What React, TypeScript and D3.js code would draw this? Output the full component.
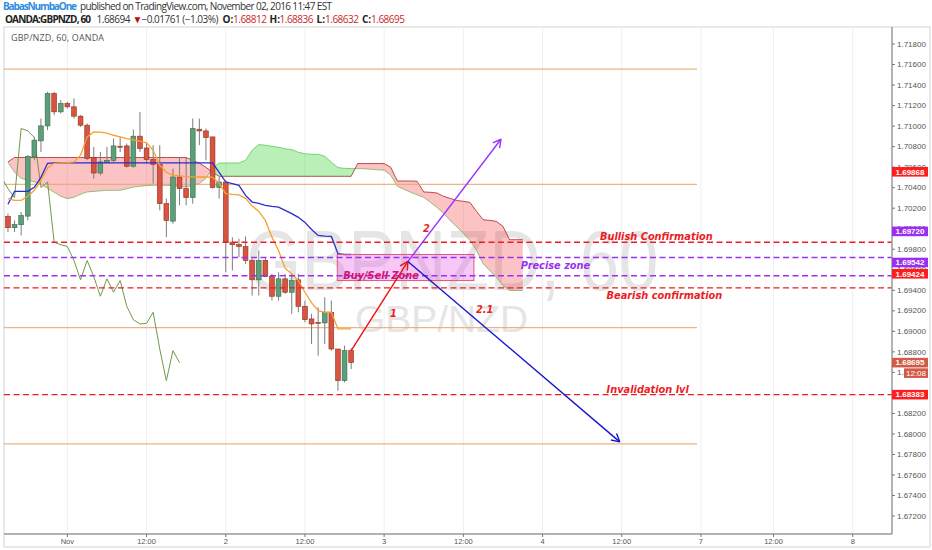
import { useEffect, useRef } from "react"
import * as d3 from "d3"

// hourly bars, bar 0 = Nov 1 00:00, first visible candle is bar -9
const firstBar = -9

const opens = [
  1.7012, 1.7001, 1.70039, 1.70123, 1.70699, 1.70856, 1.71002, 1.71319, 1.71139, 1.71221,
  1.71188, 1.71097, 1.71009, 1.70694, 1.70543, 1.70645, 1.70667, 1.70804, 1.70807, 1.70609,
  1.70902, 1.70787, 1.70677, 1.70628, 1.70244, 1.70074, 1.70504, 1.70391, 1.70303, 1.7097,
  1.70953, 1.70895, 1.70401, 1.70455, 1.69869, 1.69847, 1.69827, 1.69691, 1.69502, 1.69691,
  1.69534, 1.69342, 1.69512, 1.69381, 1.69502, 1.69244, 1.69121, 1.69088, 1.69082, 1.69186,
  1.68828, 1.68519, 1.68812,
]
const highs = [
  1.70147, 1.70081, 1.70162, 1.70716, 1.70895, 1.71074, 1.71334, 1.71334, 1.71253, 1.71237,
  1.7127, 1.71107, 1.71026, 1.70797, 1.70748, 1.70797, 1.70879, 1.70895, 1.7083, 1.70967,
  1.71139, 1.70836, 1.70814, 1.70814, 1.70293, 1.70586, 1.70699, 1.70699, 1.71074, 1.71074,
  1.70977, 1.70895, 1.70504, 1.70472, 1.69918, 1.69903, 1.69925, 1.69707, 1.69788, 1.69723,
  1.69561, 1.69576, 1.69561, 1.69561, 1.69561, 1.693, 1.6917, 1.69235, 1.69332, 1.693,
  1.68828, 1.68861, 1.68836,
]
const lows = [
  1.69967, 1.69967, 1.69935, 1.70081, 1.70667, 1.70748, 1.7096, 1.71107, 1.71123, 1.71172,
  1.71074, 1.70992, 1.70667, 1.70488, 1.70521, 1.70641, 1.70651, 1.70748, 1.70596, 1.70596,
  1.70748, 1.70635, 1.7044, 1.70179, 1.69918, 1.70049, 1.70228, 1.70228, 1.70244, 1.70814,
  1.70667, 1.70391, 1.70293, 1.69576, 1.69593, 1.69723, 1.69658, 1.69349, 1.69349, 1.69528,
  1.693, 1.693, 1.69365, 1.6917, 1.69186, 1.69088, 1.68877, 1.68763, 1.68877, 1.68812,
  1.68421, 1.68502, 1.68632,
]
const closes = [
  1.7001, 1.70042, 1.7013, 1.70706, 1.70863, 1.71002, 1.71319, 1.71139, 1.71221, 1.71188,
  1.71097, 1.71009, 1.70684, 1.70543, 1.70651, 1.70667, 1.70807, 1.70799, 1.70609, 1.70902,
  1.70781, 1.70674, 1.70628, 1.70244, 1.70081, 1.70504, 1.70391, 1.70303, 1.70977, 1.70953,
  1.70889, 1.70401, 1.70455, 1.69869, 1.69844, 1.69827, 1.69691, 1.69502, 1.69691, 1.69534,
  1.69342, 1.69512, 1.69381, 1.69495, 1.69244, 1.69114, 1.69072, 1.69078, 1.69186, 1.68828,
  1.68519, 1.68812, 1.68695,
]

// Ichimoku, values from bar -9
const tenkan = [
  1.70293, 1.70277, 1.70277, 1.70316, 1.70374, 1.70472, 1.70589, 1.70638, 1.70641, 1.70643,
  1.70651, 1.70716, 1.70895, 1.70944, 1.70941, 1.70931, 1.70911, 1.70895, 1.70879, 1.70867,
  1.70853, 1.70838, 1.70765, 1.70618, 1.7055, 1.70521, 1.70516, 1.70511, 1.70506, 1.70504,
  1.70504, 1.70501, 1.70443, 1.70342, 1.70335, 1.7033, 1.70296, 1.70223, 1.70169, 1.70081,
  1.69918, 1.69788, 1.69613, 1.69561, 1.69495, 1.69381, 1.6928, 1.69202, 1.69186, 1.69186,
  1.69024, 1.69024, 1.69024,
]
const kijun = [
  1.70238, 1.70364, 1.70364, 1.70364, 1.70404, 1.70501, 1.70638, 1.70641, 1.70641, 1.70641,
  1.70641, 1.70641, 1.70641, 1.70641, 1.70641, 1.70641, 1.70641, 1.70641, 1.70641, 1.70641,
  1.70641, 1.70641, 1.70641, 1.70641, 1.70641, 1.70641, 1.70641, 1.70641, 1.70641, 1.70641,
  1.70641, 1.70641, 1.7055, 1.70455, 1.7044, 1.70423, 1.70325, 1.7026, 1.70247, 1.70228,
  1.70218, 1.70211, 1.70179, 1.70147, 1.70111, 1.70062, 1.69993, 1.69935, 1.69928, 1.69925,
  1.69756, 1.69749, 1.69749,
]
// lead lines, bar -9 to bar 69
const senkouA = [
  1.70648, 1.7055, 1.70491, 1.70472, 1.70457, 1.70433, 1.70394, 1.70355, 1.70316, 1.70293,
  1.70306, 1.70335, 1.70358, 1.70364, 1.70369, 1.70374, 1.70374, 1.70374, 1.70389, 1.70406,
  1.70413, 1.7042, 1.70423, 1.70423, 1.70423, 1.70418, 1.70413, 1.70406, 1.70423, 1.7044,
  1.70491, 1.70589, 1.70641, 1.70641, 1.70641, 1.70641, 1.70667, 1.70765, 1.70821, 1.70814,
  1.70804, 1.70794, 1.70779, 1.70772, 1.70745, 1.70731, 1.70726, 1.70726, 1.70706, 1.70648,
  1.70596, 1.70589, 1.70586, 1.70586, 1.70584, 1.70579, 1.70574, 1.7057, 1.70521, 1.70413,
  1.70384, 1.70355, 1.7033, 1.70306, 1.70257, 1.70208, 1.7015, 1.70081, 1.70018, 1.69954,
  1.69886, 1.69788, 1.69658, 1.69593, 1.69528, 1.69446, 1.69398, 1.69398, 1.69398,
]
const senkouB = [
  1.70651, 1.70694, 1.70694, 1.70694, 1.70694, 1.70694, 1.70694, 1.70694, 1.70694, 1.70694,
  1.70694, 1.70694, 1.70694, 1.70694, 1.70694, 1.70694, 1.70694, 1.70694, 1.70694, 1.70694,
  1.70694, 1.70694, 1.70694, 1.70694, 1.70694, 1.70694, 1.70694, 1.70694, 1.70667, 1.70638,
  1.70599, 1.7055, 1.70511, 1.70511, 1.70511, 1.70511, 1.70511, 1.70511, 1.70511, 1.70511,
  1.70511, 1.70511, 1.70511, 1.70511, 1.70511, 1.70511, 1.70511, 1.70511, 1.70511, 1.70511,
  1.70511, 1.70511, 1.70511, 1.70635, 1.70635, 1.70635, 1.70635, 1.70635, 1.70599, 1.70465,
  1.70465, 1.70465, 1.70462, 1.70358, 1.70355, 1.70348, 1.70316, 1.70296, 1.70275, 1.70267,
  1.70257, 1.70169, 1.70088, 1.70081, 1.70072, 1.70023, 1.69893, 1.69893, 1.69893,
]
const chikouShift = 26

const priceTicks = [
  1.672, 1.674, 1.676, 1.678, 1.68, 1.682, 1.684, 1.686, 1.688, 1.69, 1.692, 1.694,
  1.696, 1.698, 1.7, 1.702, 1.704, 1.706, 1.708, 1.71, 1.712, 1.714, 1.716, 1.718,
]
const timeTickBars = [0, 12, 24, 36, 48, 60, 72, 84, 96, 107, 119]
const timeTickLabels = ["Nov", "12:00", "2", "12:00", "3", "12:00", "4", "12:00", "7", "12:00", "8"]

// drawings
const tanLevels = [1.71556, 1.70433, 1.69036, 1.67904]
const tanEndBar = 95.4
const redLevels = [1.69868, 1.69424, 1.68383]
const purpleLevels = [1.6972, 1.69542]
const zone = { bar0: 40.9, bar1: 61.6, top: 1.69749, bottom: 1.69495 }
const arrowRed = { from: [43, 1.68812], to: [51.6, 1.69681] }
const arrowPurple = { from: [51.6, 1.69681], to: [65.7, 1.70872] }
const arrowBlue = { from: [51.6, 1.69681], to: [83.7, 1.67923] }
const redNotes = [
  { text: "Bullish Confirmation", bar: 80.7, price: 1.69891 },
  { text: "Bearish confirmation", bar: 81.7, price: 1.69315 },
  { text: "Invalidation lvl", bar: 81.7, price: 1.68397 },
  { text: "1", bar: 48.9, price: 1.69139 },
  { text: "2", bar: 53.9, price: 1.69969 },
  { text: "2.1", bar: 61.9, price: 1.69178 },
]
const purpleNotes = [{ text: "Precise zone", bar: 68.7, price: 1.69608 }]
const zoneNotes = [{ text: "Buy/Sell Zone", bar: 41.8, price: 1.6951 }]

// price-scale badges: text and the price where the badge sits
const badgeTexts = ["1.69868", "1.69720", "1.69542", "1.69424", "1.68695", "1.68383"]
const badgeAt = [1.70555, 1.69974, 1.69671, 1.69561, 1.68695, 1.68383]
const badgeKinds = ["red", "purple", "purple", "red", "last", "red"]

const pane = { left: 4, right: 892, top: 27, bottom: 534 }
const RED = "#ec1c24"
const PURPLE = "#9b30f0"

export default function App() {
  const svgRef = useRef<SVGSVGElement>(null)

  useEffect(() => {
    if (!svgRef.current) return
    const svg = d3.select(svgRef.current)
    svg.selectAll("*").remove()

    const x = d3.scaleLinear().domain([-9.6, 124.95]).range([pane.left, pane.right])
    const y = d3.scaleLinear().domain([1.67025, 1.71966]).range([pane.bottom, pane.top])

    svg.append("rect").attr("width", 932).attr("height", 550).attr("fill", "#fff")

    // header
    const h1 = svg.append("text").attr("y", 10).style("font-family", "Open Sans, sans-serif").style("font-size", "10px")
    h1.append("tspan").attr("x", 3).attr("fill", "#2d8ee0").attr("font-weight", "bold").attr("textLength", 74).text("BabasNumbaOne")
    h1.append("tspan").attr("x", 80).attr("fill", "#333").attr("textLength", 252)
      .text("published on TradingView.com, November 02, 2016 11:47 EST")

    const h2 = svg.append("text").attr("y", 22.5).style("font-family", "Open Sans, sans-serif").style("font-size", "10px")
    h2.append("tspan").attr("x", 5).attr("fill", "#222").attr("font-weight", "bold").attr("textLength", 86).text("OANDA:GBPNZD, 60")
    h2.append("tspan").attr("x", 96.5).attr("fill", "#333").attr("textLength", 34).text("1.68694")
    h2.append("tspan").attr("x", 132.5).attr("fill", "#b80f0f").text("▼")
    h2.append("tspan").attr("x", 141.5).attr("fill", "#333").attr("textLength", 77).text("−0.01761 (−1.03%)")
    const ohlc = [["O:", 222.5, "1.68812", 233], ["H:", 269.5, "1.68836", 279.5], ["L:", 316.5, "1.68632", 325], ["C:", 362, "1.68695", 371]]
    ohlc.forEach(([k, kx, v, vx]) => {
      h2.append("tspan").attr("x", kx as number).attr("fill", "#222").attr("font-weight", "bold").text(k as string)
      h2.append("tspan").attr("x", vx as number).attr("fill", "#c62828").attr("textLength", 34).text(v as string)
    })

    // frame
    svg.append("rect").attr("x", 4).attr("y", 27).attr("width", 926).attr("height", 520)
      .attr("fill", "none").attr("stroke", "#d4d4d4")

    const defs = svg.append("defs")
    defs.append("clipPath").attr("id", "paneClip").append("rect")
      .attr("x", pane.left).attr("y", pane.top).attr("width", pane.right - pane.left).attr("height", pane.bottom - pane.top)

    // vertical grid
    svg.append("g").selectAll("line").data(timeTickBars).enter().append("line")
      .attr("x1", (d) => x(d)).attr("x2", (d) => x(d)).attr("y1", pane.top).attr("y2", pane.bottom)
      .attr("stroke", "#efefef")

    const g = svg.append("g").attr("clip-path", "url(#paneClip)")

    // watermark
    g.append("text").attr("x", x(27.1)).attr("y", 290).attr("textLength", 412).attr("lengthAdjust", "spacingAndGlyphs")
      .style("font-family", "Liberation Sans, Arial, sans-serif").style("font-size", "86px").attr("fill", "#e5e5e5")
      .text("GBPNZD, 60")
    g.append("text").attr("x", x(43.6)).attr("y", 332).attr("textLength", 173).attr("lengthAdjust", "spacingAndGlyphs")
      .style("font-family", "Liberation Sans, Arial, sans-serif").style("font-size", "37px").attr("fill", "#e5e5e5")
      .text("GBP/NZD")

    g.append("text").attr("x", 11).attr("y", 41).attr("fill", "#555").attr("textLength", 93)
      .style("font-family", "Open Sans, sans-serif").style("font-size", "9px").text("GBP/NZD, 60, OANDA")

    // cloud
    const lead = senkouA.map((a, k) => ({ bar: firstBar + k, a, b: senkouB[k] }))
    const pts: { bar: number; a: number; b: number }[] = []
    lead.forEach((p, k) => {
      pts.push(p)
      const q = lead[k + 1]
      if (!q) return
      const d0 = p.a - p.b
      const d1 = q.a - q.b
      if (d0 * d1 < 0) {
        const t = d0 / (d0 - d1)
        const v = p.a + t * (q.a - p.a)
        pts.push({ bar: p.bar + t, a: v, b: v })
      }
    })
    const runs: { up: boolean; pts: typeof pts }[] = []
    let cur: typeof pts = []
    let up: boolean | null = null
    pts.forEach((p) => {
      const d = p.a - p.b
      cur.push(p)
      if (d === 0 && cur.length > 1) {
        runs.push({ up: !!up, pts: cur })
        cur = [p]
        up = null
      } else if (d !== 0) up = d > 0
    })
    if (cur.length > 1) runs.push({ up: !!up, pts: cur })

    const leadA = d3.line<any>().x((d) => x(d.bar)).y((d) => y(d.a))
    const leadB = d3.line<any>().x((d) => x(d.bar)).y((d) => y(d.b))
    g.append("path").datum(lead).attr("d", leadA).attr("fill", "none").attr("stroke", "#5cc25c").attr("stroke-width", 1).attr("opacity", 0.7)
    g.append("path").datum(lead).attr("d", leadB).attr("fill", "none").attr("stroke", "#a83232").attr("stroke-width", 1).attr("opacity", 0.85)
    const cloudArea = d3.area<any>().x((d) => x(d.bar)).y0((d) => y(d.b)).y1((d) => y(d.a))
    runs.forEach((r) => {
      g.append("path").datum(r.pts).attr("d", cloudArea)
        .attr("fill", r.up ? "rgb(0,200,0)" : "rgb(240,40,40)").attr("opacity", 0.28)
    })

    // tan horizontal lines
    g.selectAll(".tan").data(tanLevels).enter().append("line").attr("class", "tan")
      .attr("x1", pane.left).attr("x2", x(tanEndBar)).attr("y1", (d) => y(d)).attr("y2", (d) => y(d))
      .attr("stroke", "#e8a870").attr("stroke-width", 1.3).attr("opacity", 0.85)

    // lagging span
    const chikou = closes.map((c, k) => ({ bar: firstBar + k - chikouShift, v: c })).filter((d) => d.bar >= firstBar - 1)
    g.append("path").datum(chikou)
      .attr("d", d3.line<any>().x((d) => x(d.bar)).y((d) => y(d.v)))
      .attr("fill", "none").attr("stroke", "#6f9a48").attr("stroke-width", 1)

    // candles
    const bars = opens.map((o, k) => ({ bar: firstBar + k, o, h: highs[k], l: lows[k], c: closes[k] }))
    const bw = 4.8
    const cg = g.append("g")
    cg.selectAll(".wick").data(bars).enter().append("line").attr("class", "wick")
      .attr("x1", (d) => x(d.bar)).attr("x2", (d) => x(d.bar)).attr("y1", (d) => y(d.h)).attr("y2", (d) => y(d.l))
      .attr("stroke", "#7c7c7c").attr("stroke-width", 1)
    cg.selectAll(".body").data(bars).enter().append("rect").attr("class", "body")
      .attr("x", (d) => x(d.bar) - bw / 2).attr("width", bw)
      .attr("y", (d) => y(Math.max(d.o, d.c)))
      .attr("height", (d) => Math.max(1, Math.abs(y(d.o) - y(d.c))))
      .attr("fill", (d) => (d.c >= d.o ? "#5c9f78" : "#d9533e"))
      .attr("stroke", (d) => (d.c >= d.o ? "#3b6a4e" : "#8c3222"))
      .attr("stroke-width", 0.6)

    // conversion / base lines
    const lineOf = (vals: number[]) => vals.map((v, k) => ({ bar: firstBar + k, v }))
    const ln = d3.line<any>().x((d) => x(d.bar)).y((d) => y(d.v))
    g.append("path").datum(lineOf(kijun)).attr("d", ln).attr("fill", "none").attr("stroke", "#2b2bcf").attr("stroke-width", 1.3)
    g.append("path").datum(lineOf(tenkan)).attr("d", ln).attr("fill", "none").attr("stroke", "#f7a030").attr("stroke-width", 1.3)

    // buy/sell zone
    g.append("rect").attr("x", x(zone.bar0)).attr("width", x(zone.bar1) - x(zone.bar0))
      .attr("y", y(zone.top)).attr("height", y(zone.bottom) - y(zone.top))
      .attr("fill", "rgb(230,80,230)").attr("fill-opacity", 0.32).attr("stroke", "#e2557e").attr("stroke-width", 1)

    // dashed levels
    const dashed = (levels: number[], color: string) =>
      g.append("g").selectAll("line").data(levels).enter().append("line")
        .attr("x1", pane.left).attr("x2", pane.right).attr("y1", (d) => y(d)).attr("y2", (d) => y(d))
        .attr("stroke", color).attr("stroke-width", 1.4).attr("stroke-dasharray", "6,3.5")
    dashed(redLevels, RED)
    dashed(purpleLevels, PURPLE)

    // arrows
    const arrow = (a: { from: number[]; to: number[] }, color: string) => {
      const x0 = x(a.from[0]), y0 = y(a.from[1]), x1 = x(a.to[0]), y1 = y(a.to[1])
      const ag = g.append("g").attr("stroke", color).attr("stroke-width", 1.4).attr("fill", "none")
      ag.append("line").attr("x1", x0).attr("y1", y0).attr("x2", x1).attr("y2", y1)
      const ang = Math.atan2(y1 - y0, x1 - x0)
      ;[-1, 1].forEach((s) => {
        const t = ang + Math.PI + s * 0.5
        ag.append("line").attr("x1", x1).attr("y1", y1).attr("x2", x1 + 9 * Math.cos(t)).attr("y2", y1 + 9 * Math.sin(t))
      })
    }
    arrow(arrowRed, "#ee1111")
    arrow(arrowPurple, "#9933ff")
    arrow(arrowBlue, "#1616cc")

    // notes
    const notes = (data: { text: string; bar: number; price: number }[], color: string) =>
      g.append("g").selectAll("text").data(data).enter().append("text")
        .attr("x", (d) => x(d.bar)).attr("y", (d) => y(d.price))
        .attr("fill", color).attr("font-weight", "bold").attr("font-style", "italic")
        .style("font-family", "DejaVu Sans, Verdana, sans-serif").style("font-size", "9.8px")
        .text((d) => d.text)
    notes(redNotes, RED)
    notes(purpleNotes, PURPLE)
    notes(zoneNotes, "#d0146c")

    // axes separators
    svg.append("line").attr("x1", pane.right).attr("x2", pane.right).attr("y1", pane.top).attr("y2", pane.bottom)
      .attr("stroke", "#9a9a9a").attr("stroke-width", 1.5)
    svg.append("line").attr("x1", pane.left).attr("x2", pane.right).attr("y1", pane.bottom).attr("y2", pane.bottom)
      .attr("stroke", "#9a9a9a").attr("stroke-width", 1.5)

    // price axis
    const fmt = d3.format(".5f")
    const pa = svg.append("g").selectAll("g").data(priceTicks).enter().append("g")
      .attr("transform", (d) => `translate(${pane.right},${y(d)})`)
    pa.append("line").attr("x1", 0).attr("x2", 3).attr("stroke", "#777")
    pa.append("text").attr("x", 5).attr("dy", "0.33em").attr("fill", "#555")
      .style("font-family", "Liberation Sans, Arial, sans-serif").style("font-size", "8px").text((d) => fmt(d))

    // time axis
    const ta = svg.append("g").selectAll("g").data(timeTickBars).enter().append("g")
      .attr("transform", (d) => `translate(${x(d)},${pane.bottom})`)
    ta.append("line").attr("y1", 0).attr("y2", 3).attr("stroke", "#777")
    ta.append("text").attr("y", 9.5).attr("text-anchor", "middle").attr("fill", "#555")
      .style("font-family", "Liberation Sans, Arial, sans-serif").style("font-size", "7.5px")
      .text((d, k) => timeTickLabels[k])

    // price badges
    const badgeFill: Record<string, string> = { red: "#ff1c1c", purple: "#9b2ff0", last: "#d45a48" }
    const bg = svg.append("g").selectAll("g").data(badgeTexts).enter().append("g")
      .attr("transform", (d, k) => `translate(${pane.right},${y(badgeAt[k])})`)
    bg.append("rect").attr("x", 0).attr("y", -4.8).attr("width", 36).attr("height", 9.6)
      .attr("fill", (d, k) => badgeFill[badgeKinds[k]])
    bg.append("text").attr("x", 18).attr("dy", "0.34em").attr("text-anchor", "middle").attr("fill", "#fff")
      .attr("font-weight", "bold").style("font-family", "Liberation Sans, Arial, sans-serif").style("font-size", "8px")
      .text((d) => d)

    // bar countdown under the last price
    const cd = svg.append("g").attr("transform", `translate(${pane.right + 12},${y(closes[closes.length - 1]) + 10.5})`)
    cd.append("rect").attr("x", 0).attr("y", -4.8).attr("width", 24).attr("height", 9.6).attr("fill", "#d45a48")
    cd.append("text").attr("x", 12).attr("dy", "0.34em").attr("text-anchor", "middle").attr("fill", "#fff")
      .style("font-family", "Liberation Sans, Arial, sans-serif").style("font-size", "8px").text("12:08")
  }, [])

  return <svg ref={svgRef} width={932} height={550} style={{ position: "absolute", left: 0, top: 0 }}></svg>
}
